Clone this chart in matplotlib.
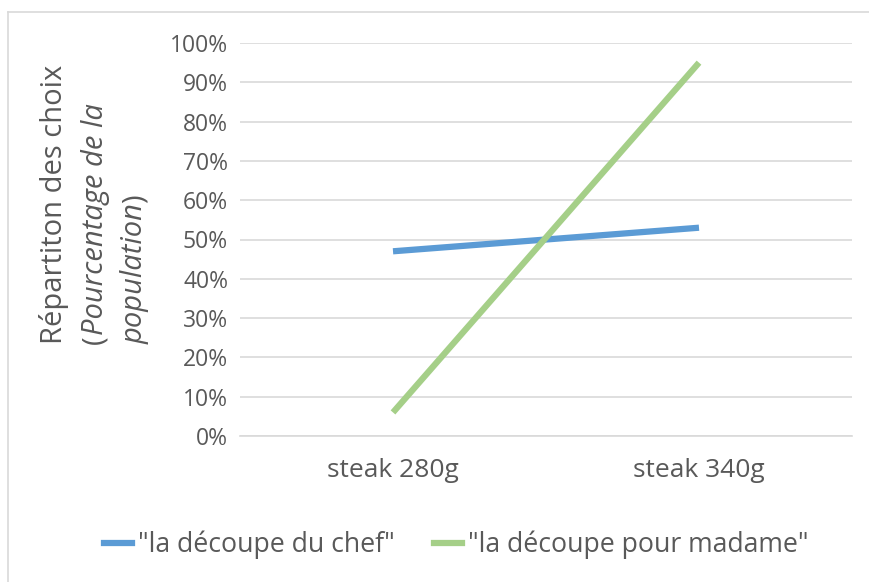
import matplotlib
matplotlib.use("Agg")
import matplotlib.pyplot as plt
from matplotlib.lines import Line2D

categories = ["steak 280g", "steak 340g"]
chef = [47, 53]
madame = [6, 95]
series_names = ['"la découpe du chef"', '"la découpe pour madame"']
yticks = list(range(0, 101, 10))

W, H = 869, 582
fig = plt.figure(figsize=(W / 100, H / 100), dpi=100)
fam = ["Open Sans", "DejaVu Sans"]
plt.rcParams["font.family"] = fam
txt = "#595959"

ax = fig.add_axes([240 / W, 1 - 436 / H, (852 - 240) / W, (436 - 43) / H])
x = list(range(len(categories)))
ax.plot(x, chef, color="#5B9BD5", lw=4.5, solid_capstyle="butt", zorder=3)
ax.plot(x, madame, color="#A5CF88", lw=4.5, solid_capstyle="butt", zorder=3)
ax.set_xlim(-0.5, len(categories) - 0.5)
ax.set_ylim(0, 100)
ax.set_yticks(yticks)
ax.set_yticklabels([f"{v}%" for v in yticks])
ax.set_xticks(x)
ax.set_xticklabels(categories)
ax.grid(axis="y", color="#D9D9D9", lw=1.2)
ax.set_axisbelow(True)
for s in ["top", "right", "left"]:
    ax.spines[s].set_visible(False)
ax.spines["bottom"].set_color("#D9D9D9")
ax.spines["bottom"].set_linewidth(1.2)
ax.tick_params(axis="both", length=0, colors=txt)
ax.tick_params(axis="y", pad=8.6, labelsize=16.5)
ax.tick_params(axis="x", pad=16, labelsize=19)

# y-axis title: three lines, rotated, left aligned (start at bottom)
fig.canvas.draw()
renderer = fig.canvas.get_renderer()
y0 = 1 - 344 / H
fs = 21

def piece(xc, y, s, style):
    t = fig.text(xc, y, s, rotation=90, ha="center", va="bottom", color=txt,
                 fontsize=fs, style=style)
    bb = t.get_window_extent(renderer)
    return y + bb.height / H

piece(54 / W, y0, "Répartiton des choix", "normal")
yy = piece(95 / W, y0, "(", "normal")
piece(95 / W, yy, "Pourcentage de la", "italic")
yy = piece(135 / W, y0, "population", "italic")
piece(135 / W, yy, ")", "normal")

handles = [Line2D([], [], color="#5B9BD5", lw=4.5),
           Line2D([], [], color="#A5CF88", lw=4.5)]
fig.legend(handles, series_names, loc="center", bbox_to_anchor=(0.525, 1 - 545 / H),
           ncol=2, frameon=False, fontsize=19.2, labelcolor=txt, handlelength=1.05,
           handletextpad=0.22, columnspacing=1.45)

# chart border
fig.add_artist(Line2D([8 / W, 8 / W], [0, 1 - 12 / H], transform=fig.transFigure,
                      color="#D9D9D9", lw=1.2))
fig.add_artist(Line2D([8 / W, 1], [1 - 12 / H, 1 - 12 / H], transform=fig.transFigure,
                      color="#D9D9D9", lw=1.2))

fig.savefig("out.png", dpi=100)
